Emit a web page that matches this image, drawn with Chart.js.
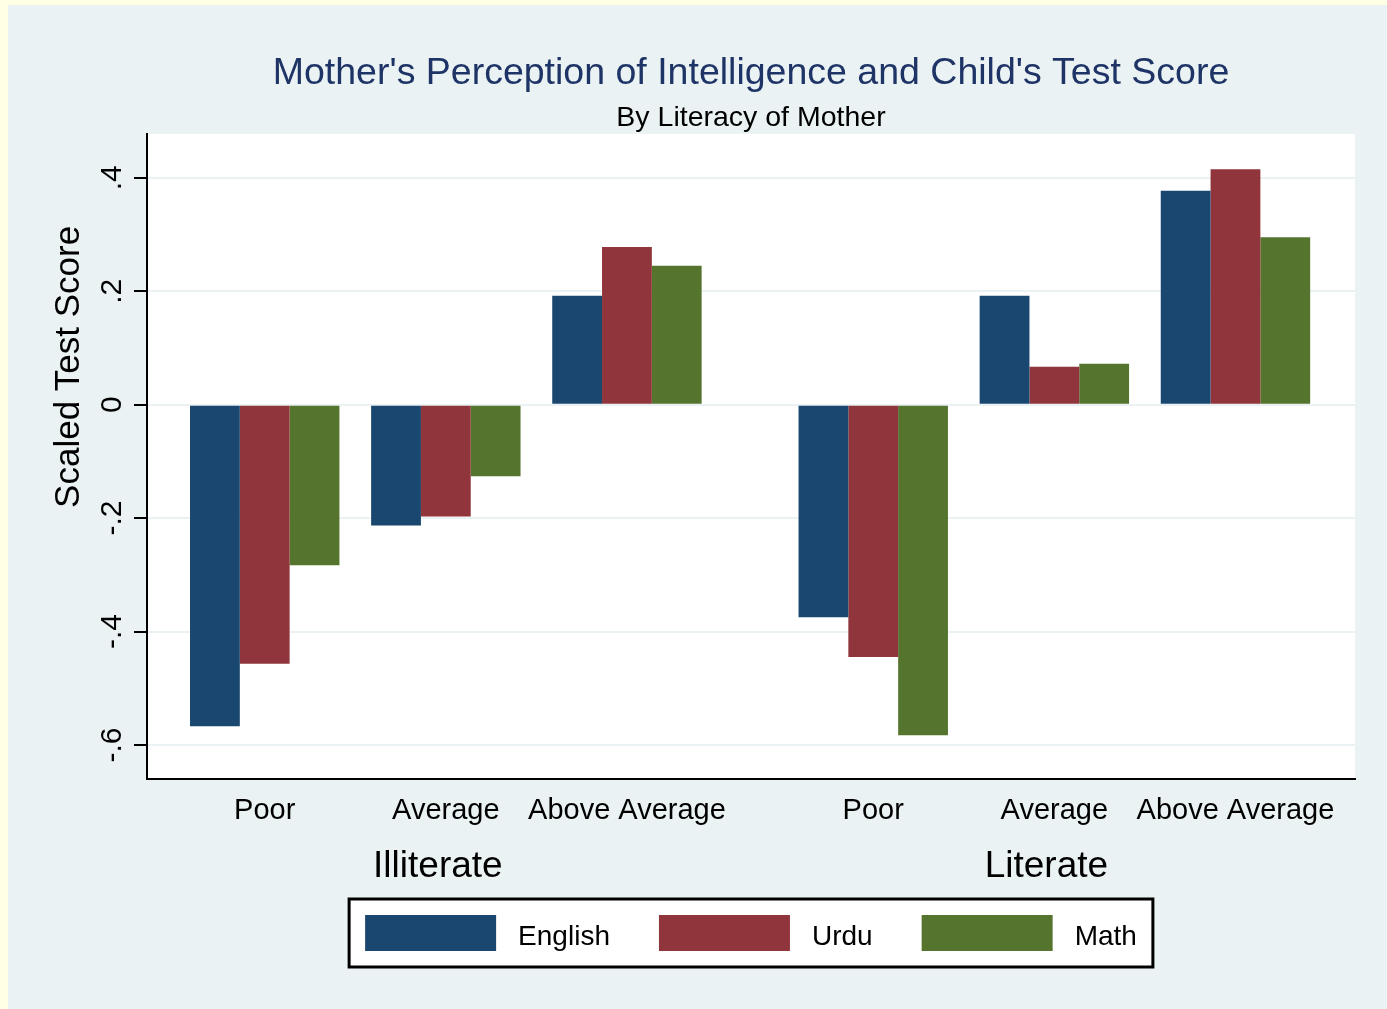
<!DOCTYPE html>
<html>
<head>
<meta charset="utf-8">
<script src="https://cdn.jsdelivr.net/npm/chart.js@4.4.0/dist/chart.umd.min.js"></script>
<style>
html, body { margin: 0; padding: 0; background: #FFFFE6; }
#wrap { position: absolute; left: 8px; top: 5px; width: 1379px; height: 1004px; background: #EAF2F3; }
canvas { display: block; }
</style>
</head>
<body>
<div id="wrap"><canvas id="barChart" width="1379" height="1004"></canvas></div>
<script>
var literacy = ["Illiterate", "Literate"];
var perception = ["Poor", "Average", "Above Average"];
var seriesNames = ["English", "Urdu", "Math"];
// values in order: Illiterate (Poor, Average, Above Average), Literate (Poor, Average, Above Average)
var english = [-0.567, -0.213, 0.192, -0.375, 0.192, 0.377];
var urdu = [-0.457, -0.197, 0.278, -0.445, 0.067, 0.415];
var math = [-0.283, -0.126, 0.245, -0.583, 0.072, 0.295];
var yTicks = [-0.6, -0.4, -0.2, 0, 0.2, 0.4];

var colors = ['#1A476F', '#90353B', '#55752F'];
var groupGap = 0.36;
var fontFamily = '"Liberation Sans", Arial, Helvetica, sans-serif';
Chart.defaults.font.family = fontFamily;

function pos(k) {
    return Math.floor(k / perception.length) * (perception.length + groupGap) + (k % perception.length);
}
var xPositions = english.map(function (v, k) { return pos(k); });
var groupCenters = literacy.map(function (l, g) { return pos(g * perception.length + 1); });

function fmt(v) {
    if (Math.abs(v) < 1e-9) return '0';
    return v.toFixed(1).replace('0.', '.');
}

var extras = {
    id: 'extras',
    beforeDraw: function (chart) {
        var a = chart.chartArea;
        chart.ctx.save();
        chart.ctx.fillStyle = '#FFFFFF';
        chart.ctx.fillRect(a.left, a.top, a.right - a.left, a.bottom - a.top);
        chart.ctx.restore();
    },
    afterDraw: function (chart) {
        var ctx = chart.ctx;
        var area = chart.chartArea;
        ctx.save();
        // y axis title
        ctx.font = '35px ' + fontFamily;
        ctx.fillStyle = '#000';
        ctx.textAlign = 'center';
        ctx.textBaseline = 'middle';
        ctx.translate(area.left - 78, area.top + 233);
        ctx.rotate(-Math.PI / 2);
        ctx.fillText('Scaled Test Score', 0, 0);
        ctx.restore();

        // legend
        ctx.save();
        ctx.font = '28px ' + fontFamily;
        var swW = 131, swH = 36, gapText = 22, gapItem = 49, padX = 16;
        var widths = seriesNames.map(function (n) { return ctx.measureText(n).width; });
        var total = padX * 2 + gapItem * (seriesNames.length - 1);
        widths.forEach(function (w) { total += swW + gapText + w; });
        var cx = (area.left + area.right) / 2;
        var left = cx - total / 2;
        var top = area.bottom + 120;
        var h = 68;
        ctx.fillStyle = '#FFFFFF';
        ctx.fillRect(left, top, total, h);
        ctx.lineWidth = 3;
        ctx.strokeStyle = '#000';
        ctx.strokeRect(left, top, total, h);
        var x = left + padX;
        ctx.textAlign = 'left';
        ctx.textBaseline = 'middle';
        seriesNames.forEach(function (n, i) {
            ctx.fillStyle = colors[i];
            ctx.fillRect(x, top + 16, swW, swH);
            x += swW + gapText;
            ctx.fillStyle = '#000';
            ctx.fillText(n, x, top + 38);
            x += widths[i] + gapItem;
        });
        ctx.restore();
    }
};

var ctx_bar = document.getElementById('barChart');
var barChart = new Chart(ctx_bar, {
    type: 'bar',
    data: {
        datasets: [english, urdu, math].map(function (vals, i) {
            return {
                label: seriesNames[i],
                data: vals.map(function (v, k) { return { x: xPositions[k], y: v }; }),
                backgroundColor: colors[i],
                borderWidth: 0,
                categoryPercentage: 0.825,
                barPercentage: 1.0
            };
        })
    },
    plugins: [extras],
    options: {
        responsive: false,
        animation: false,
        layout: {
            padding: { left: 0, right: 32, top: 0, bottom: 118 }
        },
        plugins: {
            legend: { display: false },
            tooltip: { enabled: false },
            title: {
                display: true,
                fullSize: false,
                text: "Mother's Perception of Intelligence and Child's Test Score",
                color: '#1F3466',
                font: { size: 37.5, weight: 'normal' },
                padding: { top: 46.5, bottom: 6 }
            },
            subtitle: {
                display: true,
                fullSize: false,
                text: 'By Literacy of Mother',
                color: '#000',
                font: { size: 28.5, weight: 'normal', lineHeight: 1.1 },
                padding: { top: 0, bottom: 0 }
            }
        },
        scales: {
            x: {
                type: 'linear',
                position: 'bottom',
                min: -0.65,
                max: 6.02,
                offset: false,
                weight: 0,
                afterBuildTicks: function (axis) {
                    axis.ticks = xPositions.map(function (v) { return { value: v }; });
                },
                afterFit: function (axis) { axis.height = 52; },
                ticks: {
                    autoSkip: false,
                    maxRotation: 0,
                    minRotation: 0,
                    padding: 15,
                    color: '#000',
                    font: { size: 29 },
                    callback: function (v, i) { return perception[i % perception.length]; }
                },
                grid: { display: false, drawTicks: false },
                border: { display: true, color: '#000', width: 2 }
            },
            x2: {
                type: 'linear',
                position: 'bottom',
                min: -0.606,
                max: 6.064,
                offset: false,
                weight: 1,
                afterBuildTicks: function (axis) {
                    axis.ticks = groupCenters.map(function (v) { return { value: v }; });
                },
                afterFit: function (axis) { axis.height = 60; },
                ticks: {
                    autoSkip: false,
                    maxRotation: 0,
                    minRotation: 0,
                    padding: 14,
                    color: '#000',
                    font: { size: 37 },
                    callback: function (v, i) { return literacy[i]; }
                },
                grid: { display: false, drawTicks: false },
                border: { display: false }
            },
            y: {
                type: 'linear',
                min: -0.66,
                max: 0.4775,
                afterBuildTicks: function (axis) {
                    axis.ticks = yTicks.map(function (v) { return { value: v }; });
                },
                afterFit: function (axis) { axis.width = 139; },
                ticks: {
                    autoSkip: false,
                    minRotation: 90,
                    maxRotation: 90,
                    crossAlign: 'center',
                    padding: 4,
                    color: '#000',
                    font: { size: 30 },
                    callback: function (v) { return fmt(v); }
                },
                grid: {
                    color: '#EAF2F3',
                    lineWidth: 2,
                    drawTicks: true,
                    tickLength: 13,
                    tickColor: '#000',
                    tickWidth: 2
                },
                border: { display: true, color: '#000', width: 2 }
            }
        }
    }
});
</script>
</body>
</html>
